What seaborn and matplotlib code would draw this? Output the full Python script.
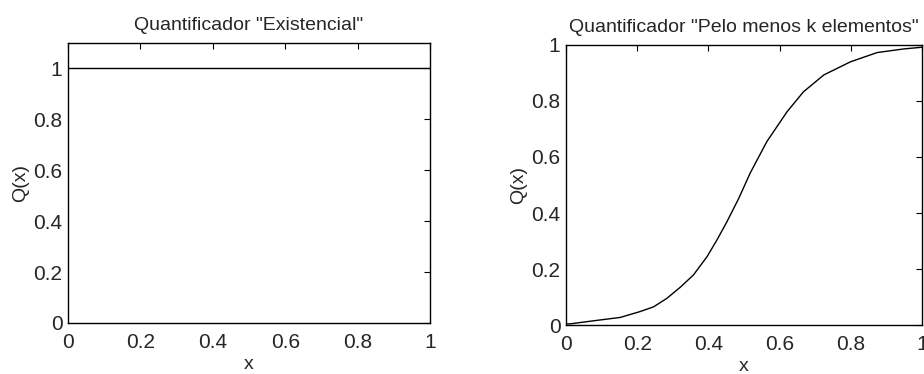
import pandas as pd
import seaborn as sns
import numpy as np
import matplotlib.pyplot as plt

# Quantificador "Existencial": constant 1 over [0, 1]
exist_x = [0.0, 1.0]
exist_q = [1.0, 1.0]

# Quantificador "Pelo menos k elementos": values
pelo_x = [0.0, 0.011, 0.077, 0.152, 0.208, 0.246, 0.283, 0.321, 0.358, 0.396,
          0.424, 0.452, 0.485, 0.517, 0.564, 0.621, 0.667, 0.724, 0.799,
          0.874, 0.949, 1.0]
pelo_q = [0.004, 0.004, 0.015, 0.027, 0.048, 0.065, 0.095, 0.135, 0.179, 0.244,
          0.304, 0.369, 0.452, 0.542, 0.655, 0.762, 0.833, 0.893, 0.94,
          0.973, 0.986, 0.992]

ticks = [0, 0.2, 0.4, 0.6, 0.8, 1]
tick_labels = ['0', '0.2', '0.4', '0.6', '0.8', '1']

sns.set_style('white')
plt.rcParams['font.family'] = ['Liberation Sans', 'DejaVu Sans']
plt.rcParams['font.size'] = 14

fig = plt.figure(figsize=(9.24, 3.74), dpi=100)
ax1 = fig.add_axes([0.0736, 0.1364, 0.3918, 0.7487])
ax2 = fig.add_axes([0.6126, 0.131, 0.3853, 0.7487])


def style_axes(ax, ymax, title):
    ax.set_xlim(0, 1)
    ax.set_ylim(0, ymax)
    ax.set_xticks(ticks)
    ax.set_xticklabels(tick_labels)
    ax.set_yticks(ticks)
    ax.set_yticklabels(tick_labels)
    ax.tick_params(direction='in', top=True, right=True, length=4,
                   width=0.8, color='black', labelsize=15)
    ax.tick_params(axis='x', pad=7)
    ax.tick_params(axis='y', pad=4)
    for s in ax.spines.values():
        s.set_visible(True)
        s.set_color('black')
        s.set_linewidth(1.0)
    ax.set_xlabel('x', fontsize=14, labelpad=3)
    ax.set_ylabel('Q(x)', fontsize=14, labelpad=3)
    ax.set_title(title, fontsize=14, pad=9)


df1 = pd.DataFrame({'x': exist_x, 'Q': exist_q})
sns.lineplot(data=df1, x='x', y='Q', color='black', linewidth=1.0, ax=ax1)
style_axes(ax1, 1.1, 'Quantificador "Existencial"')

df2 = pd.DataFrame({'x': pelo_x, 'Q': pelo_q})
sns.lineplot(data=df2, x='x', y='Q', color='black', linewidth=1.0, ax=ax2)
style_axes(ax2, 1.0, 'Quantificador "Pelo menos k elementos"')

fig.savefig('out.png', dpi=100)
